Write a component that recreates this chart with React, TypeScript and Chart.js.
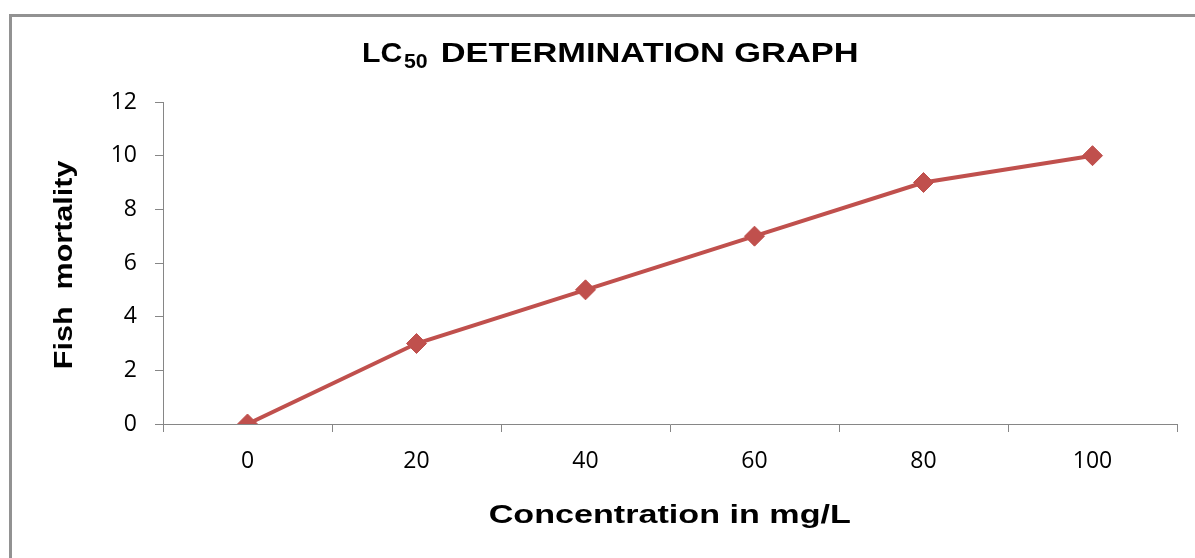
import React, { useEffect, useRef } from "react";
import { Chart, registerables } from "chart.js";

Chart.register(...registerables);

const categories: string[] = ["0", "20", "40", "60", "80", "100"];
const mortality: number[] = [0, 3, 5, 7, 9, 10];
const yMin = 0;
const yMax = 12;
const yStep = 2;

const titleMain = "LC";
const titleSub = "50";
const titleRest = "DETERMINATION GRAPH";
const xTitle = "Concentration in mg/L";
const yTitle = "Fish  mortality";

const AXIS = "#868686";
const LINE = "#C0504D";
const BOLD = "Liberation Sans, Arial, sans-serif";
const TICKFONT = "Open Sans, sans-serif";

function drawStretched(
  ctx: CanvasRenderingContext2D,
  text: string,
  x: number,
  y: number,
  font: string,
  targetW: number,
  rotate = 0
) {
  ctx.save();
  ctx.font = font;
  ctx.fillStyle = "#000";
  ctx.textAlign = "left";
  ctx.textBaseline = "alphabetic";
  const m = ctx.measureText(text);
  const left = m.actualBoundingBoxLeft || 0;
  const w = (m.actualBoundingBoxRight || m.width) + left;
  const s = targetW / w;
  ctx.translate(x, y);
  if (rotate) ctx.rotate(rotate);
  ctx.scale(s, 1);
  ctx.fillText(text, left, 0);
  ctx.restore();
}

const framePlugin = {
  id: "frameAndTitles",
  beforeDraw(chart: any) {
    const ctx = chart.ctx as CanvasRenderingContext2D;
    ctx.save();
    ctx.fillStyle = "#fff";
    ctx.fillRect(0, 0, chart.width, chart.height);
    ctx.fillStyle = "#929292";
    ctx.fillRect(9, 14, 3, chart.height - 14);
    ctx.fillRect(9, 14, chart.width - 9, 3);
    ctx.restore();
  },
  afterDraw(chart: any) {
    const ctx = chart.ctx as CanvasRenderingContext2D;
    drawStretched(ctx, titleMain, 363, 62, `bold 28px ${BOLD}`, 39);
    drawStretched(ctx, titleSub, 404, 68, `bold 21px ${BOLD}`, 23);
    drawStretched(ctx, titleRest, 442, 62, `bold 28px ${BOLD}`, 415);
    drawStretched(ctx, xTitle, 490, 523, `bold 26px ${BOLD}`, 361);
    drawStretched(ctx, yTitle, 72, 368, `bold 26px ${BOLD}`, 208, -Math.PI / 2);
  },
};

export default function App() {
  const ref = useRef<HTMLCanvasElement | null>(null);
  useEffect(() => {
    if (!ref.current) return;
    const chart = new Chart(ref.current, {
      type: "line",
      data: {
        labels: categories,
        datasets: [
          {
            label: "Fish mortality",
            data: mortality,
            borderColor: LINE,
            backgroundColor: LINE,
            borderWidth: 4,
            pointStyle: "rectRot",
            pointRadius: 10,
            pointBorderWidth: 1,
            pointBackgroundColor: LINE,
            pointBorderColor: LINE,
            tension: 0,
          },
        ],
      },
      options: {
        animation: false,
        responsive: false,
        layout: { padding: { top: 102, right: 18, bottom: 74, left: 0 } },
        plugins: {
          legend: { display: false },
          title: { display: false },
          tooltip: { enabled: false },
        },
        scales: {
          x: {
            type: "category",
            offset: true,
            grid: {
              offset: true,
              drawOnChartArea: false,
              drawTicks: true,
              tickLength: 8,
              color: AXIS,
              lineWidth: 1,
            },
            border: { display: true, color: AXIS, width: 1 },
            ticks: {
              color: "#000",
              font: { family: TICKFONT, size: 23 },
              padding: 16,
              maxRotation: 0,
            },
            afterFit: (s: any) => {
              s.height = 60;
            },
          },
          y: {
            min: yMin,
            max: yMax,
            grid: {
              drawOnChartArea: false,
              drawTicks: true,
              tickLength: 8,
              color: AXIS,
              lineWidth: 1,
            },
            border: { display: true, color: AXIS, width: 1 },
            ticks: {
              stepSize: yStep,
              color: "#000",
              font: { family: TICKFONT, size: 23 },
              padding: 18,
            },
            afterFit: (s: any) => {
              s.width = 163;
            },
          },
        },
      },
      plugins: [framePlugin],
    });
    return () => chart.destroy();
  }, []);
  return (
    <div style={{ position: "fixed", left: 0, top: 0, width: 1195, height: 558 }}>
      <canvas ref={ref} width={1195} height={558} style={{ width: 1195, height: 558, display: "block" }} />
    </div>
  );
}
